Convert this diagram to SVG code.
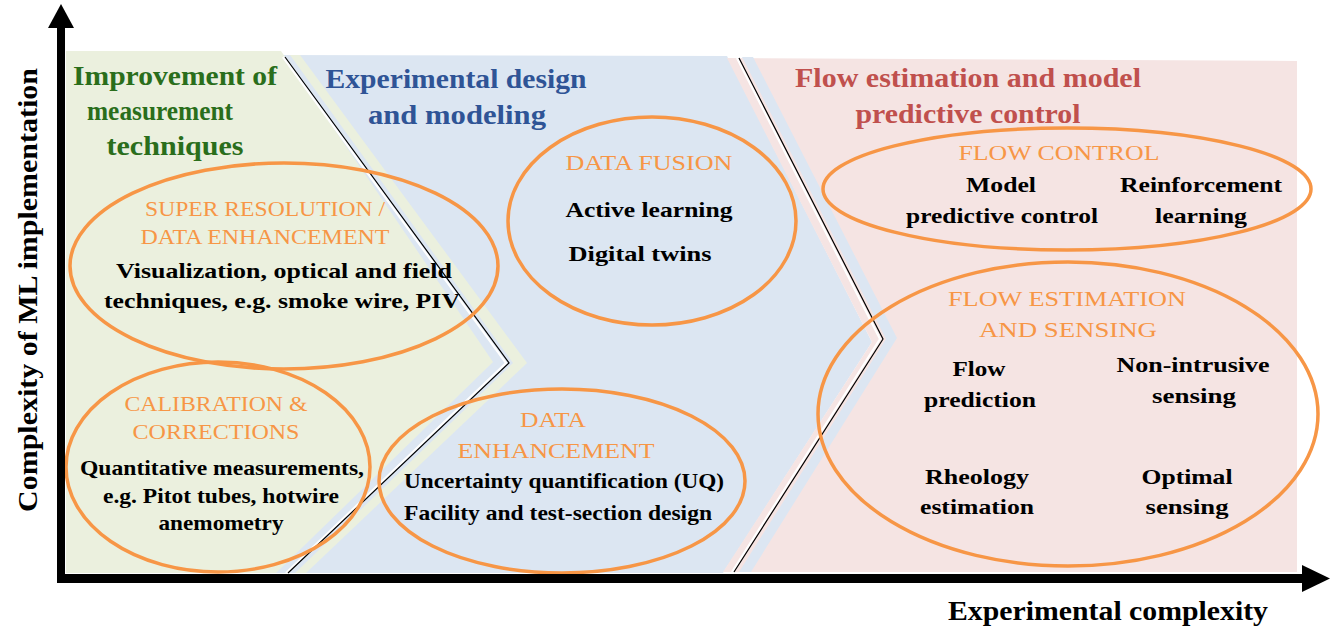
<svg xmlns="http://www.w3.org/2000/svg" width="1336" height="631" viewBox="0 0 1336 631">
<style>
  text { font-family: "Liberation Serif", "DejaVu Serif", serif; font-weight: bold; text-anchor: middle; }
  .title { font-size: 27px; }
  .green { fill: #2A6E1B; }
  .blue { fill: #2F5496; }
  .red { fill: #C0504D; }
  .head { font-size: 21px; fill: #F79646; font-weight: normal; }
  .body { font-size: 21px; fill: #000; }
  .ell { fill: none; stroke: #F79646; stroke-width: 3.5; }
  .axislabel { font-size: 27px; fill: #000; }
  .bline { fill: none; stroke: #000; stroke-width: 1.2; }
  .wline { fill: none; stroke: #fff; stroke-width: 2.2; }
</style>
<rect x="0" y="0" width="1336" height="631" fill="#ffffff"/>

<g id="regions">
  <polygon points="268,55 727,56 872,342 723,573 262,573" fill="#DCE6F2"/>
  <polygon points="66,51 281,51 493,362 276,573 66,573" fill="#EBF0DE"/>
  <polygon points="290,55 300,55 527,363 306,573 295,573 513,363" fill="#EBF0DE"/>
  <polygon points="727,58 1297,61 1297,572 723,572 872,342" fill="#F5E4E3"/>
  <polygon points="742,57 753,57 897,338 751,572 739,572 886,339" fill="#DCE6F2"/>
</g>

<g id="boundaries">
  <polyline class="wline" points="283,57 506,363 286,573"/>
  <polyline class="bline" points="285,57 509,363 288,573"/>
  <polyline class="wline" points="737,58 880,339 732,572"/>
  <polyline class="bline" points="739,58 883,339 734,572"/>
</g>

<g id="region-labels">
  <g id="label-measurement">
    <text class="title green" x="175" y="85" textLength="204" lengthAdjust="spacingAndGlyphs">Improvement of</text>
    <text class="title green" x="160" y="120" textLength="146" lengthAdjust="spacingAndGlyphs">measurement</text>
    <text class="title green" x="175" y="155" textLength="137" lengthAdjust="spacingAndGlyphs">techniques</text>
  </g>
  <g id="label-design">
    <text class="title blue" x="456" y="88" textLength="261" lengthAdjust="spacingAndGlyphs">Experimental design</text>
    <text class="title blue" x="457" y="124" textLength="178" lengthAdjust="spacingAndGlyphs">and modeling</text>
  </g>
  <g id="label-flow">
    <text class="title red" x="968" y="87" textLength="346" lengthAdjust="spacingAndGlyphs">Flow estimation and model</text>
    <text class="title red" x="968" y="123" textLength="225" lengthAdjust="spacingAndGlyphs">predictive control</text>
  </g>
</g>

<g id="node-super-resolution">
  <ellipse class="ell" cx="284" cy="266" rx="214" ry="103"/>
  <text class="head" x="265" y="216" textLength="240" lengthAdjust="spacingAndGlyphs">SUPER RESOLUTION /</text>
  <text class="head" x="265" y="244" textLength="249" lengthAdjust="spacingAndGlyphs">DATA ENHANCEMENT</text>
  <text class="body" x="284" y="278" textLength="336" lengthAdjust="spacingAndGlyphs">Visualization, optical and field</text>
  <text class="body" x="282" y="308" textLength="356" lengthAdjust="spacingAndGlyphs">techniques, e.g. smoke wire, PIV</text>
</g>

<g id="node-calibration">
  <ellipse class="ell" cx="218" cy="467" rx="152" ry="105"/>
  <text class="head" x="216" y="411" textLength="183" lengthAdjust="spacingAndGlyphs">CALIBRATION &amp;</text>
  <text class="head" x="216" y="439" textLength="167" lengthAdjust="spacingAndGlyphs">CORRECTIONS</text>
  <text class="body" x="222" y="475" textLength="284" lengthAdjust="spacingAndGlyphs">Quantitative measurements,</text>
  <text class="body" x="221" y="503" textLength="236" lengthAdjust="spacingAndGlyphs">e.g. Pitot tubes, hotwire</text>
  <text class="body" x="221" y="530" textLength="125" lengthAdjust="spacingAndGlyphs">anemometry</text>
</g>

<g id="node-data-enhancement">
  <ellipse class="ell" cx="562" cy="481" rx="183" ry="92"/>
  <text class="head" x="553" y="427" textLength="66" lengthAdjust="spacingAndGlyphs">DATA</text>
  <text class="head" x="556" y="458" textLength="197" lengthAdjust="spacingAndGlyphs">ENHANCEMENT</text>
  <text class="body" x="564" y="488" textLength="320" lengthAdjust="spacingAndGlyphs">Uncertainty quantification (UQ)</text>
  <text class="body" x="558" y="520" textLength="308" lengthAdjust="spacingAndGlyphs">Facility and test-section design</text>
</g>

<g id="node-data-fusion">
  <ellipse class="ell" cx="652" cy="221" rx="144" ry="104"/>
  <text class="head" x="649" y="170" textLength="167" lengthAdjust="spacingAndGlyphs">DATA FUSION</text>
  <text class="body" x="649" y="217" textLength="167" lengthAdjust="spacingAndGlyphs">Active learning</text>
  <text class="body" x="640" y="261" textLength="143" lengthAdjust="spacingAndGlyphs">Digital twins</text>
</g>

<g id="node-flow-control">
  <ellipse class="ell" cx="1067" cy="189" rx="244" ry="61"/>
  <text class="head" x="1059" y="160" textLength="201" lengthAdjust="spacingAndGlyphs">FLOW CONTROL</text>
  <text class="body" x="1001" y="192" textLength="70" lengthAdjust="spacingAndGlyphs">Model</text>
  <text class="body" x="1002" y="223" textLength="192" lengthAdjust="spacingAndGlyphs">predictive control</text>
  <text class="body" x="1201" y="192" textLength="162" lengthAdjust="spacingAndGlyphs">Reinforcement</text>
  <text class="body" x="1201" y="223" textLength="92" lengthAdjust="spacingAndGlyphs">learning</text>
</g>

<g id="node-flow-estimation">
  <ellipse class="ell" cx="1068" cy="414" rx="250" ry="152"/>
  <text class="head" x="1067" y="306" textLength="238" lengthAdjust="spacingAndGlyphs">FLOW ESTIMATION</text>
  <text class="head" x="1068" y="337" textLength="178" lengthAdjust="spacingAndGlyphs">AND SENSING</text>
  <text class="body" x="979" y="376" textLength="53" lengthAdjust="spacingAndGlyphs">Flow</text>
  <text class="body" x="980" y="407" textLength="112" lengthAdjust="spacingAndGlyphs">prediction</text>
  <text class="body" x="1193" y="372" textLength="153" lengthAdjust="spacingAndGlyphs">Non-intrusive</text>
  <text class="body" x="1194" y="403" textLength="84" lengthAdjust="spacingAndGlyphs">sensing</text>
  <text class="body" x="977" y="484" textLength="104" lengthAdjust="spacingAndGlyphs">Rheology</text>
  <text class="body" x="977" y="514" textLength="114" lengthAdjust="spacingAndGlyphs">estimation</text>
  <text class="body" x="1187" y="484" textLength="91" lengthAdjust="spacingAndGlyphs">Optimal</text>
  <text class="body" x="1187" y="514" textLength="83" lengthAdjust="spacingAndGlyphs">sensing</text>
</g>

<g id="axes">
  <rect x="57" y="26" width="8" height="557" fill="#000"/>
  <polygon points="61,4 48,28 74,28" fill="#000"/>
  <rect x="57" y="574" width="1247" height="9" fill="#000"/>
  <polygon points="1302,565 1330,578.5 1302,592" fill="#000"/>
  <text class="axislabel" x="1108" y="620" textLength="320" lengthAdjust="spacingAndGlyphs">Experimental complexity</text>
  <text class="axislabel" transform="translate(37,290) rotate(-90)" x="0" y="0" textLength="444" lengthAdjust="spacingAndGlyphs">Complexity of ML implementation</text>
</g>
</svg>
